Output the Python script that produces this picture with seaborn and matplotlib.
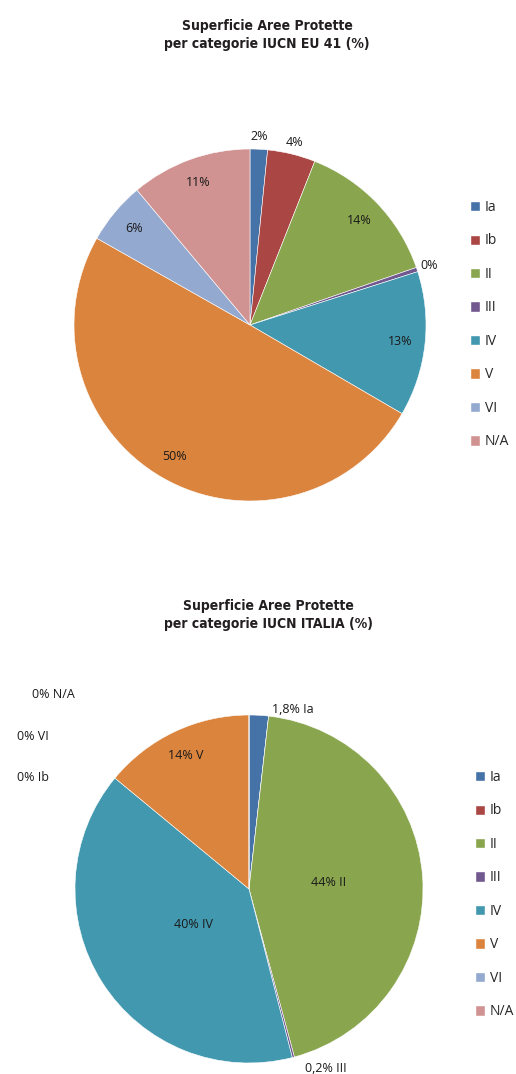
import numpy as np
import matplotlib.pyplot as plt
import seaborn as sns
from matplotlib.patches import Patch

# data
categories = ["Ia", "Ib", "II", "III", "IV", "V", "VI", "N/A"]
eu_values = [1.6, 4.4, 13.7, 0.4, 13.3, 49.8, 5.7, 11.1]
it_values = [1.8, 0.0, 44.0, 0.2, 40.0, 14.0, 0.0, 0.0]
colors = ["#4572A7", "#AA4643", "#89A54E", "#71588F",
          "#4198AF", "#DB843D", "#93A9CF", "#D19392"]

eu_title = "Superficie Aree Protette\nper categorie IUCN EU 41 (%)"
it_title = "Superficie Aree Protette\nper categorie IUCN ITALIA (%)"

sns.set_theme(style="white")
plt.rcParams['font.family'] = ['Open Sans', 'DejaVu Sans']

W, H = 516, 1074
fig = plt.figure(figsize=(W / 100, H / 100), dpi=100)


def pie_axes(cx, cy, r):
    ax = fig.add_axes([(cx - r) / W, (H - cy - r) / H, 2 * r / W, 2 * r / H])
    ax.axis("off")
    return ax


def fix_limits(ax):
    # pie() resets the limits, so set them afterwards
    ax.set_xlim(-1, 1)
    ax.set_ylim(-1, 1)
    ax.set_aspect("equal")


def mid_xy(w, r):
    a = np.deg2rad((w.theta1 + w.theta2) / 2)
    return r * np.cos(a), r * np.sin(a)


def fmt(v):
    if v == int(v):
        return f"{int(v)}%"
    return f"{v:.1f}%".replace(".", ",")


title_kw = dict(ha="center", va="center", fontsize=10, fontweight="bold",
                family="DejaVu Sans", fontstretch="condensed", color="#231f20",
                linespacing=1.35)
lab_kw = dict(fontsize=9, color="#1a1a1a")
wedge_kw = dict(edgecolor="white", linewidth=0.4)
leg_kw = dict(loc="upper left", frameon=False, fontsize=10, handlelength=0.75,
              handleheight=0.75, handletextpad=0.3, labelspacing=1.33,
              borderpad=0, borderaxespad=0)

# ---- EU 41 pie ----
fig.text(267 / W, 1 - 35 / H, eu_title, **title_kw)
ax1 = pie_axes(250, 325, 176)
wedges, _ = ax1.pie(eu_values, colors=colors, startangle=90, counterclock=False,
                    radius=1, wedgeprops=wedge_kw)
fix_limits(ax1)
for w, v in zip(wedges, eu_values):
    r = 1.07 if v < 5 else 0.86
    x, y = mid_xy(w, r)
    ax1.text(x, y, f"{round(v)}%", ha="center", va="center", **lab_kw)

handles = [Patch(facecolor=c) for c in colors]
fig.legend(handles, categories, bbox_to_anchor=(470 / W, 1 - 200 / H), **leg_kw)

# ---- ITALIA pie ----
fig.text(268 / W, 1 - 615 / H, it_title, **title_kw)
ax2 = pie_axes(249, 889, 174)
wedges, _ = ax2.pie(it_values, colors=colors, startangle=90, counterclock=False,
                    radius=1, wedgeprops=wedge_kw)
fix_limits(ax2)
inner_r = {"II": 0.46, "IV": 0.38, "V": 0.85}
outer_pos = {"Ia": (0.25, 1.034, "center"), "III": (0.443, -1.03, "center"),
             "Ib": (-1.333, 0.638, "left"), "VI": (-1.333, 0.874, "left"),
             "N/A": (-1.247, 1.115, "left")}
for w, v, cat in zip(wedges, it_values, categories):
    text = f"{fmt(v)} {cat}"
    if cat in inner_r:
        x, y = mid_xy(w, inner_r[cat])
        ax2.text(x, y, text, ha="center", va="center", **lab_kw)
    else:
        x, y, ha = outer_pos[cat]
        ax2.text(x, y, text, ha=ha, va="center", **lab_kw)

fig.legend(handles, categories, bbox_to_anchor=(475 / W, 1 - 770 / H), **leg_kw)

fig.savefig("out.png", dpi=100, facecolor="white")
